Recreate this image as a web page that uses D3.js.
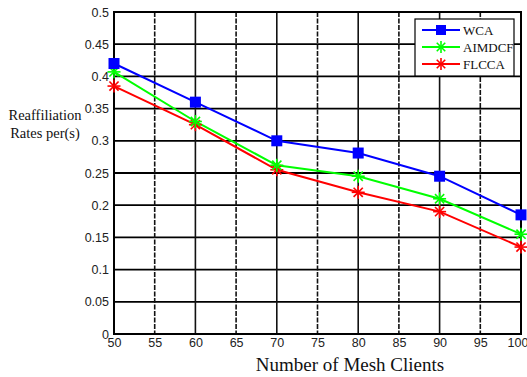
<!DOCTYPE html>
<html lang="en">
<head>
<meta charset="UTF-8">
<title>Reaffiliation Rates</title>
<script src="https://d3js.org/d3.v7.min.js"></script>
<style>
    body { margin: 0; padding: 0; background: #fff; }
    svg { display: block; font-family: "Liberation Serif", "Times New Roman", serif; }
    .tick text { font-size: 12.5px; fill: #222; }
</style>
</head>
<body>
<svg width="527" height="377"></svg>
<script>
    const clients = [50, 60, 70, 80, 90, 100];
    const wca = [0.42, 0.36, 0.30, 0.281, 0.245, 0.185];
    const aimdcf = [0.407, 0.33, 0.262, 0.245, 0.21, 0.155];
    const flcca = [0.385, 0.325, 0.255, 0.22, 0.19, 0.135];
    const xTicks = [50, 55, 60, 65, 70, 75, 80, 85, 90, 95, 100];
    const yTicks = [0, 0.05, 0.1, 0.15, 0.2, 0.25, 0.3, 0.35, 0.4, 0.45, 0.5];

    const series = [
        { name: "WCA", values: wca, color: "#0000ff", marker: "square" },
        { name: "AIMDCF", values: aimdcf, color: "#00ff00", marker: "star" },
        { name: "FLCCA", values: flcca, color: "#ff0000", marker: "star" }
    ];

    const margin = { top: 12, right: 6, bottom: 43, left: 114 };
    const width = 521 - margin.left;
    const height = 334 - margin.top;

    const svg = d3.select("svg");
    const g = svg.append("g").attr("transform", `translate(${margin.left},${margin.top})`);

    const x = d3.scaleLinear().domain([50, 100]).range([0, width]);
    const y = d3.scaleLinear().domain([0, 0.5]).range([height, 0]);

    // grid
    g.append("g").selectAll("line")
        .data(yTicks)
        .join("line")
        .attr("x1", 0).attr("x2", width)
        .attr("y1", d => y(d)).attr("y2", d => y(d))
        .attr("stroke", "#000").attr("stroke-width", 1.8);

    g.append("g").selectAll("line")
        .data(xTicks)
        .join("line")
        .attr("x1", d => x(d)).attr("x2", d => x(d))
        .attr("y1", 0).attr("y2", height)
        .attr("stroke", "#111").attr("stroke-width", 1.6)
        .attr("stroke-dasharray", d => d % 10 === 0 ? null : "5,1.5");

    // axes
    g.append("g")
        .attr("transform", `translate(0,${height})`)
        .call(d3.axisBottom(x).tickValues(xTicks).tickSize(0).tickPadding(4).tickFormat(d3.format("d")))
        .call(a => a.select(".domain").remove())
        .call(a => a.selectAll(".tick text").filter(d => d === 100)
            .attr("text-anchor", "end").attr("dx", "0.55em"));

    g.append("g")
        .call(d3.axisLeft(y).tickValues(yTicks).tickSize(0).tickPadding(5).tickFormat(d => d === 0 ? "0" : String(d)))
        .call(a => a.select(".domain").remove());

    g.append("rect")
        .attr("width", width).attr("height", height)
        .attr("fill", "none").attr("stroke", "#000").attr("stroke-width", 2);

    // lines
    const line = d3.line()
        .x((d, i) => x(clients[i]))
        .y(d => y(d));

    function drawMarker(sel, s, cx, cy, size) {
        if (s.marker === "square") {
            sel.append("rect")
                .attr("x", cx - size / 2).attr("y", cy - size / 2)
                .attr("width", size).attr("height", size)
                .attr("fill", s.color);
        } else {
            const r = size / 2 + 1;
            const m = sel.append("g").attr("transform", `translate(${cx},${cy})`);
            d3.range(8).forEach(k => {
                const a = k * Math.PI / 4;
                m.append("line")
                    .attr("x1", 0).attr("y1", 0)
                    .attr("x2", r * Math.cos(a)).attr("y2", r * Math.sin(a))
                    .attr("stroke", s.color).attr("stroke-width", 1.6);
            });
        }
    }

    series.slice().reverse().forEach(s => {
        g.append("path")
            .datum(s.values)
            .attr("fill", "none")
            .attr("stroke", s.color)
            .attr("stroke-width", 2)
            .attr("d", line);
    });
    series.slice().reverse().forEach(s => {
        s.values.forEach((v, i) => drawMarker(g, s, x(clients[i]), y(v), 11));
    });

    // legend
    const leg = svg.append("g").attr("transform", "translate(415,19)");
    leg.append("rect")
        .attr("width", 99).attr("height", 57)
        .attr("fill", "#fff").attr("stroke", "#000").attr("stroke-width", 1.2);
    series.forEach((s, i) => {
        const ly = 11 + i * 17;
        leg.append("line")
            .attr("x1", 7).attr("x2", 45).attr("y1", ly).attr("y2", ly)
            .attr("stroke", s.color).attr("stroke-width", 2);
        drawMarker(leg, s, 26, ly, 10);
        leg.append("text")
            .attr("x", 48).attr("y", ly + 4.5)
            .attr("font-size", 13).attr("fill", "#111")
            .text(s.name);
    });

    // axis titles
    svg.append("text")
        .attr("x", 350).attr("y", 371)
        .attr("text-anchor", "middle")
        .attr("font-size", 19).attr("fill", "#111")
        .text("Number of Mesh Clients");

    const yl = svg.append("text")
        .attr("text-anchor", "middle")
        .attr("font-size", 14.5).attr("fill", "#111");
    yl.append("tspan").attr("x", 45).attr("y", 120).text("Reaffiliation");
    yl.append("tspan").attr("x", 45).attr("y", 138).text("Rates per(s)");
</script>
</body>
</html>
